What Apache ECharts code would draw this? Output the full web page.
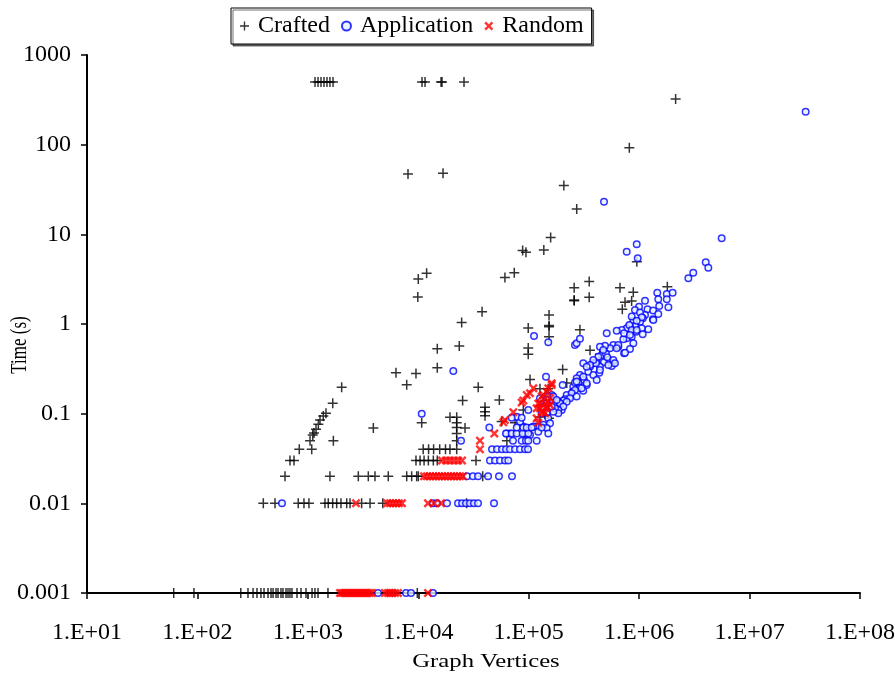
<!DOCTYPE html>
<html><head><meta charset="utf-8">
<script src="https://cdn.jsdelivr.net/npm/echarts@6/dist/echarts.min.js"></script>
<style>html,body{margin:0;padding:0;background:#fff}#c{width:895px;height:675px}</style>
</head><body><div id="c"></div>
<script>
const xTickLabels = ['1.E+01','1.E+02','1.E+03','1.E+04','1.E+05','1.E+06','1.E+07','1.E+08'];
const yTickLabels = ['0.001','0.01','0.1','1','10','100','1000'];
const seriesNames = ['Crafted','Application','Random'];

const craftedData = [
[1161,500],[1236,500],[1315,500],[1400,500],[1490,500],[1585,500],[1690,500],[10810,500],[11510,500],[16070,500],[16400,500],[25940,500],
[8070,47],[16750,48],
[2.14e6,323],[8.15e5,92.5],[208000,35],[272000,19.2],[158000,9.2],[88100,6.6],[94400,6.3],[137000,6.7],[9.53e5,4.95],
[10000,3.18],[11900,3.67],[60900,3.3],[74000,3.73],[9900,2.0],[258000,2.54],[258000,1.85],[258000,1.82],[353000,2.97],[353000,1.99],
[6.71e5,2.54],[8.85e5,2.26],[7.45e5,1.75],[8.55e5,1.8],[7.04e5,1.46],[1.8e6,2.6],
[37800,1.37],[24700,1.04],[14860,0.53],[23500,0.57],[152800,1.26],[152800,0.96],[152800,0.93],[152800,0.72],[99000,0.90],[99000,0.54],[99000,0.46],[291000,0.86],[359000,0.51],[441600,0.46],[203000,0.31],[102800,0.24],[126500,0.19],[150000,0.19],[221000,0.22],[75200,0.079],[56900,0.082],[126500,0.092],[89300,0.11],
[14860,0.326],[6280,0.286],[9530,0.28],[7856,0.21],[34900,0.197],[25200,0.14],[54200,0.142],[40200,0.118],[40200,0.105],[40200,0.095],[10740,0.079],[19360,0.091],[22280,0.091],[22280,0.079],[22280,0.07],[22280,0.06],[22280,0.05],[26500,0.069],[63400,0.05],[99000,0.06],[152800,0.089],
[2024,0.197],[1680,0.131],[1459,0.101],[1380,0.094],[1288,0.085],[1245,0.076],[1186,0.067],[1137,0.061],[1107,0.058],[1046,0.05],[1702,0.05],[3917,0.069],[836,0.04],[1084,0.04],[689,0.03],[749,0.03],
[11080,0.04],[12400,0.04],[13770,0.04],[15630,0.04],[17640,0.04],[19360,0.04],[22280,0.04],
[9530,0.03],[10380,0.03],[11280,0.03],[12340,0.03],[13690,0.03],[14860,0.03],[33300,0.03],
[621,0.02],[1585,0.02],[2864,0.02],[3527,0.02],[4053,0.02],[5350,0.02],[7856,0.02],[8710,0.02],[9670,0.02],[10000,0.02],[38300,0.02],
[395,0.01],[504,0.01],[818,0.01],[922,0.01],[1023,0.01],[1429,0.01],[1531,0.01],[1678,0.01],[1824,0.01],[1995,0.01],[2248,0.01],[2409,0.01],[3069,0.01],[3656,0.01],[4765,0.01],[27400,0.01],
[61,0.001],[93,0.001],[247,0.001],[287,0.001],[319,0.001],[346,0.001],[376,0.001],[401,0.001],[436,0.001],[464,0.001],[484,0.001],[515,0.001],[537,0.001],[571,0.001],[595,0.001],[634,0.001],[661,0.001],[689,0.001],[718,0.001],[797,0.001],[867,0.001],[962,0.001],[1091,0.001],[1160,0.001],[1236,0.001],[1521,0.001],[9795,0.001]
];

const applicationData = [
[3.22e7,233],[480500,23.1],[5.59e6,9.04],[771500,6.4],[950500,7.74],[970500,5.4],[4.01e6,4.88],[4.23e6,4.25],[2.79e6,3.24],[3.09e6,3.73],
[1.46e6,2.23],[1.78e6,2.16],[2.01e6,2.23],[1.49e6,1.89],[1.78e6,1.89],[1.52e6,1.59],[1.84e6,1.54],[1.13e6,1.82],[997600,1.56],[917200,1.43],[1.19e6,1.46],[1.34e6,1.41],[1.49e6,1.29],[1.13e6,1.26],[1.08e6,1.16],[1.33e6,1.13],[885900,1.09],[1.02e6,1.06],[856400,1.21],[1.21e6,0.873],[1.055e6,0.895],[917200,0.95],[826000,0.95],[771500,0.895],[695000,0.857],[936200,0.82],[1.077e6,0.767],[856400,0.722],[771500,0.693],[719200,0.676],[626300,0.842],[508400,0.787],[885900,0.609],[826000,0.526],[729900,0.471],[647400,0.558],[583600,0.583],[544500,0.536],[490700,0.573],[441600,0.558],[457900,0.451],[501300,0.463],[526000,0.397],[583600,0.365],[564100,0.34],[480500,0.374],[412700,0.38],[441600,0.334],[435700,0.286],[384600,0.365],[358900,0.334],[346500,0.294],[312000,0.365],[316600,0.238],[291100,0.27],[271800,0.248],[281200,0.222],[335000,0.209],[291100,0.195],[312000,0.18],[253300,0.2],[262400,0.222],[250100,0.176],[236600,0.155],[220700,0.162],[213100,0.145],[205700,0.14],[191900,0.128],[179200,0.12],[198900,0.11],[185500,0.136],[203000,0.209],[169500,0.125],[161500,0.162],[150400,0.155],[143400,0.258],[161500,0.115],[145500,0.142],[135500,0.12],[131000,0.101],[111700,0.735],[150400,0.625],[262400,0.583],[271800,0.609],[291100,0.686],
[1.018e6,1.34],[1.055e6,1.19],[950500,1.09],[814900,0.975],[1.344e6,1.11],[856400,0.857],[950500,0.857],[729900,0.787],[826000,0.754],[647400,0.583],[473300,0.513],[626300,0.536],[745300,0.479],[515000,0.425],[583600,0.397],[426900,0.43],[406700,0.365],[384600,0.397],[358900,0.349],[335000,0.334],[441600,0.307],[526000,0.349],[604300,0.365],[384600,0.27],[412700,0.238],[312000,0.258],[271800,0.228],[335000,0.218],[301700,0.192],[262400,0.184],[245000,0.169],[271800,0.155],[236600,0.149],[220700,0.136],[191900,0.131],[205700,0.12],[185500,0.11],[173100,0.115],[185500,0.101],[167100,0.105],[161500,0.12],[145500,0.101],[150400,0.089],[155900,0.078],[135500,0.075],[145500,0.069],[118100,0.072],[110100,0.072],[99100,0.069],[89300,0.072],[83380,0.081],[77850,0.0925],[67660,0.06],[63190,0.06],[150400,0.06],[122100,0.063],[102700,0.058],[92520,0.06],[167100,0.155],[179200,0.142],[145500,0.131],[126500,0.149],
[4318,0.001],[7741,0.001],[8590,0.001],[13590,0.001],
[583,0.01],[13590,0.01],[14770,0.01],[18190,0.01],[22890,0.01],[24900,0.01],[27060,0.01],[29380,0.01],[31930,0.01],[34750,0.01],[48500,0.01],
[27620,0.02],[31270,0.02],[34750,0.02],[42850,0.02],[53790,0.02],[70560,0.02],
[44570,0.03],[49520,0.03],[54950,0.03],[60990,0.03],[65330,0.03],
[46520,0.04],[51630,0.04],[57280,0.04],[62270,0.04],[67660,0.04],[75140,0.04],[83380,0.04],[92520,0.04],[98540,0.04],
[24380,0.05],[72040,0.05],[86340,0.05],[94470,0.05],[99100,0.05],[118100,0.05],
[62270,0.06],[70120,0.06],[77850,0.06],[88130,0.06],[99100,0.06],
[43950,0.07],[77850,0.07],[89300,0.07],[95870,0.07],[106400,0.07],[131000,0.07],
[70120,0.09],[86340,0.09],[10740,0.1],[99100,0.11],[20750,0.3]
];

const randomData = [
[1954,0.001],[2037,0.001],[2124,0.001],[2215,0.001],[2309,0.001],[2408,0.001],[2510,0.001],[2617,0.001],[2728,0.001],[2844,0.001],[2966,0.001],[3092,0.001],[3224,0.001],[3362,0.001],[3504,0.001],[3654,0.001],[3809,0.001],[4995,0.001],[5317,0.001],[5544,0.001],[5780,0.001],[6153,0.001],[6551,0.001],[12240,0.001],
[2728,0.01],[5207,0.01],[5544,0.01],[5902,0.01],[6281,0.01],[6683,0.01],[7121,0.01],[12240,0.01],[13870,0.01],[16070,0.01],
[11270,0.02],[11990,0.02],[12770,0.02],[13590,0.02],[14460,0.02],[15400,0.02],[16400,0.02],[17450,0.02],[18580,0.02],[19780,0.02],[21050,0.02],[22420,0.02],[23870,0.02],[25410,0.02],
[16400,0.03],[17820,0.03],[19360,0.03],[21050,0.03],[22890,0.03],[24900,0.03],
[36200,0.05],[36200,0.04],[48800,0.06],[60900,0.085],[58900,0.08],[72500,0.104],[86300,0.133],[89300,0.14],[95900,0.162],[102800,0.169],[110200,0.192],[122200,0.13],[126500,0.115],[135600,0.105],[145500,0.12],[150400,0.136],[156000,0.149],[161500,0.209],[145500,0.176],[130900,0.155],[140600,0.101],[118000,0.089],[122200,0.079],[135600,0.162],[150400,0.192],[161500,0.218],[126500,0.13],[140600,0.13],[156000,0.125],[145500,0.115],[130900,0.105],[118000,0.115]
];

const FONT = '"Liberation Serif", "Times New Roman", serif';
const plusPath = 'path://M42.5,0H57.5V42.5H100V57.5H57.5V100H42.5V57.5H0V42.5H42.5Z';
const crossPath = 'path://M0,19L19,0L50,31L81,0L100,19L69,50L100,81L81,100L50,69L19,100L0,81L31,50Z';

const chart = echarts.init(document.getElementById('c'), null, {renderer: 'canvas'});
const option = {
  animation: false,
  backgroundColor: '#fff',
  grid: {left: 87, right: 35, top: 55, bottom: 82, containLabel: false, outerBoundsMode: 'none'},
  legend: {
    left: 231, top: 8,
    padding: [6, 8, 6, 9],
    itemGap: 11, itemWidth: 9, itemHeight: 9,
    borderColor: '#000', borderWidth: 1,
    backgroundColor: '#fff',
    shadowColor: 'rgba(0,0,0,0.55)', shadowOffsetX: 2, shadowOffsetY: 2, shadowBlur: 0,
    selectedMode: false,
    textStyle: {fontFamily: FONT, fontSize: 24, color: '#000', padding: [0, 0, 0, 4]},
    data: [
      {name: seriesNames[0], icon: plusPath},
      {name: seriesNames[1], icon: 'circle'},
      {name: seriesNames[2], icon: crossPath}
    ]
  },
  xAxis: {
    type: 'log', logBase: 10, min: 10, max: 1e8, splitNumber: 7,
    axisLine: {lineStyle: {color: '#000', width: 2}},
    axisTick: {length: 6, lineStyle: {color: '#000', width: 1.5}},
    minorTick: {show: false},
    splitLine: {show: false},
    axisLabel: {
      fontFamily: FONT, fontSize: 24, color: '#000', margin: 28,
      formatter: v => xTickLabels[Math.round(Math.log10(v)) - 1] || ''
    }
  },
  yAxis: {
    type: 'log', logBase: 10, min: 0.001, max: 1000, splitNumber: 6,
    axisLine: {lineStyle: {color: '#000', width: 2}},
    axisTick: {length: 6, lineStyle: {color: '#000', width: 1.5}},
    minorTick: {show: false},
    splitLine: {show: false},
    axisLabel: {
      fontFamily: FONT, fontSize: 24, color: '#000', margin: 16,
      formatter: v => yTickLabels[Math.round(Math.log10(v)) + 3] || ''
    }
  },
  graphic: [
    {type: 'text', x: 486, y: 662, scaleX: 1.3,
     style: {text: 'Graph Vertices', font: '19px "Liberation Serif"', fill: '#000', textAlign: 'center', textVerticalAlign: 'middle'}},
    {type: 'text', x: 20, y: 345, rotation: Math.PI / 2, scaleY: 1.3,
     style: {text: 'Time (s)', font: '17px "Liberation Serif"', fill: '#000', textAlign: 'center', textVerticalAlign: 'middle'}}
  ],
  series: [
    {name: seriesNames[0], type: 'scatter', data: craftedData, symbol: plusPath, symbolSize: 10,
     itemStyle: {color: '#000'}},
    {name: seriesNames[1], type: 'scatter', data: applicationData, symbol: 'circle', symbolSize: 6.5,
     itemStyle: {color: '#e4f2ff', borderColor: '#0000ff', borderWidth: 1.5}},
    {name: seriesNames[2], type: 'scatter', data: randomData, symbol: crossPath, symbolSize: 9,
     itemStyle: {color: '#ff0000'}}
  ]
};
chart.setOption(option);
</script>
</body></html>
